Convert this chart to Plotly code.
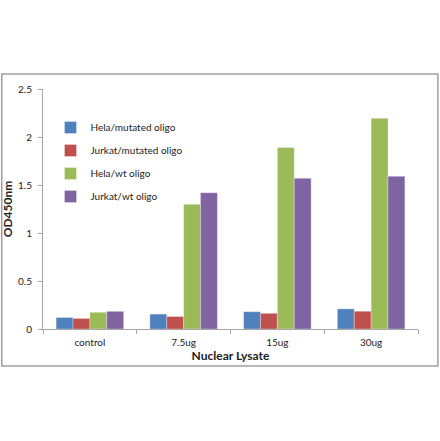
import plotly.graph_objects as go

categories = ["control", "7.5ug", "15ug", "30ug"]
hela_mutated = [0.12, 0.155, 0.18, 0.21]
jurkat_mutated = [0.11, 0.13, 0.163, 0.185]
hela_wt = [0.174, 1.30, 1.89, 2.195]
jurkat_wt = [0.184, 1.42, 1.57, 1.59]

series = [
    ("Hela/mutated oligo", hela_mutated, "#4F81BD"),
    ("Jurkat/mutated oligo", jurkat_mutated, "#C0504D"),
    ("Hela/wt oligo", hela_wt, "#9BBB59"),
    ("Jurkat/wt oligo", jurkat_wt, "#8064A2"),
]

fig = go.Figure()
for name, vals, col in series:
    fig.add_trace(go.Bar(
        x=categories, y=vals, name=name, legendgroup=name,
        marker=dict(color=col, line=dict(color="rgba(255,255,255,0.6)", width=0.5)),
    ))

# outer chart border like the Excel chart area
fig.add_shape(type="rect", xref="paper", yref="paper",
              x0=-0.11, x1=1.053, y0=-0.154, y1=1.0625,
              line=dict(color="#A0A0A0", width=1.5), layer="above")

fig.update_layout(
    width=440, height=441,
    margin=dict(l=43, r=22, t=89, b=112, autoexpand=False),
    paper_bgcolor="white", plot_bgcolor="white",
    barmode="group", bargap=0.28, bargroupgap=0,
    font=dict(family="Lato, Open Sans, sans-serif", size=10, color="#222"),
    showlegend=True,
    legend=dict(x=0.02, y=0.9, xanchor="left", yanchor="top",
                bgcolor="rgba(0,0,0,0)", font=dict(size=10, color="#222"),
                tracegroupgap=4, itemwidth=30),
    xaxis=dict(showline=True, linecolor="#A6A6A6", linewidth=1,
               ticks="outside", tickcolor="#A6A6A6", ticklen=4,
               tickson="boundaries", showgrid=False, automargin=False,
               ticklabelstandoff=4,
               title=dict(text="<b>Nuclear Lysate</b>", font=dict(size=12), standoff=3)),
    yaxis=dict(range=[0, 2.5], tickvals=[0, 0.5, 1, 1.5, 2, 2.5],
               ticktext=["0", "0.5", "1", "1.5", "2", "2.5"],
               showline=True, linecolor="#A6A6A6", linewidth=1,
               ticks="outside", tickcolor="#A6A6A6", ticklen=4,
               showgrid=False, zeroline=False, automargin=False,
               ticklabelstandoff=4,
               title=dict(text="<b>OD450nm</b>", font=dict(size=12), standoff=2)),
)

# the page body has a default 8px margin; drop it so the figure sits at 0,0
fig.write_html("out.html", config={"displayModeBar": False},
               post_script="document.body.style.margin='0';")
